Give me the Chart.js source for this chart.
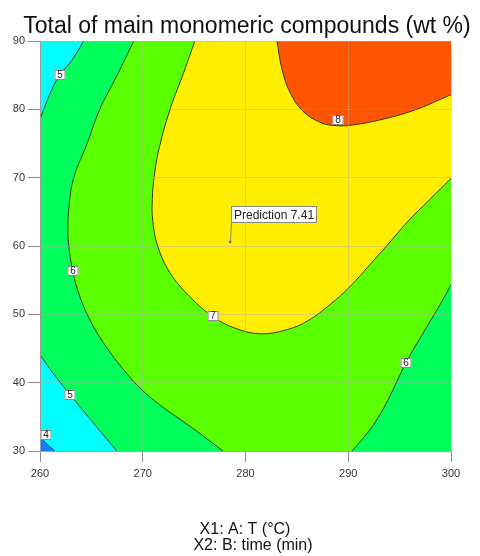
<!DOCTYPE html>
<html>
<head>
<meta charset="utf-8">
<script src="https://cdn.jsdelivr.net/npm/chart.js@4.4.1/dist/chart.umd.min.js"></script>
<style>
html,body{margin:0;padding:0;background:#fff;}
#wrap{width:480px;height:556px;}
</style>
</head>
<body>
<div id="wrap"><canvas id="c" width="480" height="556"></canvas></div>
<script>
// ---------- data ----------
const chartTitle = 'Total of main monomeric compounds (wt %)';
const xTitleLines = ['X1: A: T (°C)', 'X2: B: time (min)'];
const tempRange = [260, 300];          // X1: T (°C)
const timeRange = [30, 90];            // X2: time (min)
const tempTicks = [260, 270, 280, 290, 300];
const timeTicks = [30, 40, 50, 60, 70, 80, 90];

// contour lines as [T, time] pairs
const contour4 = [[260, 32.05], [260.7, 31.0], [261.44, 30]];
const contour5Lower = [[260, 44.08], [260.95, 42.03], [261.93, 40.12], [263.10, 37.92], [264.46, 35.43], [265.92, 32.79], [267.48, 30]];
const contour5Upper = [[264.26, 90], [263.07, 87.1], [261.86, 84.9], [260.95, 82.2], [260, 78.56]];
const contour6Left = [[269.13, 90], [267.47, 84.9], [265.82, 80.02], [264.56, 74.89], [263.29, 70.05], [262.85, 66.23],
  [262.71, 62.42], [262.80, 60.07], [263.19, 56.26], [263.88, 52.59], [264.85, 49.22], [266.11, 45.99],
  [268.06, 42.03], [269.72, 39.24], [271.66, 36.75], [273.71, 34.55], [275.75, 32.35], [277.80, 30]];
const contour6Right = [[290.36, 30], [291.14, 31.32], [292.02, 32.93], [292.89, 34.84], [293.87, 37.48],
  [295.62, 42.91], [297.37, 47.46], [299.22, 52.15], [300, 54.35]];
const contour7 = [[275.07, 90], [274.0, 85.45], [272.73, 80.32], [271.76, 75.33], [271.18, 70.93], [270.93, 66.82],
  [270.98, 63.59], [271.47, 59.93], [272.64, 56.11], [274.58, 52.59], [276.83, 49.66], [278.87, 48.04],
  [281.40, 47.16], [284.03, 47.75], [286.08, 49.07], [288.22, 51.42], [290.17, 54.06], [292.11, 57.28],
  [293.77, 60.07], [295.71, 63.45], [297.95, 66.82], [300, 69.90]];
const contour8 = [[283.06, 90], [283.55, 85.89], [284.32, 82.52], [285.59, 79.73], [287.24, 78.11], [288.41, 77.67],
  [290.17, 77.67], [293.38, 78.56], [296.69, 80.02], [299.90, 82.08], [300, 82.1]];

// contour labels
const labelTemp = [261.9, 263.2, 276.8, 289.0, 295.6, 262.9, 260.55];
const labelTime = [85.0, 56.3, 49.8, 78.4, 42.9, 38.2, 32.3];
const labelText = ['5', '6', '7', '8', '6', '5', '4'];

// prediction flag
const predTemp = [278.5];
const predTime = [60.6];
const predValue = [7.41];

// level colours
const colBelow4 = '#0a7fff';
const col4to5 = '#00ffff';
const col5to6 = '#00ff5a';
const col6to7 = '#5aff00';
const col7to8 = '#ffee00';
const colAbove8 = '#ff5500';

// ---------- build datasets / regions ----------
const [t0, t1] = tempRange;
const [h0, h1] = timeRange;
const contours = [contour4, contour5Lower, contour5Upper, contour6Left, contour6Right, contour7, contour8];
const C4 = 0, C5L = 1, C5U = 2, C6L = 3, C6R = 4, C7 = 5, C8 = 6;

// each region: sequence of corner points and contour lines (dataset index)
const regions = [
  {color: col5to6, parts: [{pt: [t0, h0]}, {pt: [t1, h0]}, {pt: [t1, h1]}, {pt: [t0, h1]}]},
  {color: col4to5, parts: [{pt: [t0, h0]}, {line: C5L}]},
  {color: colBelow4, parts: [{pt: [t0, h0]}, {line: C4}]},
  {color: col4to5, parts: [{pt: [t0, h1]}, {line: C5U}]},
  {color: col6to7, parts: [{line: C6L}, {line: C6R}, {pt: [t1, h1]}]},
  {color: col7to8, parts: [{line: C7}, {pt: [t1, h1]}]},
  {color: colAbove8, parts: [{line: C8}, {pt: [t1, h1]}]}
];

const toXY = arr => arr.map(p => ({x: p[0], y: p[1]}));
const lineSet = arr => ({
  data: toXY(arr), showLine: true, borderColor: '#383838', borderWidth: 1,
  pointRadius: 0, tension: 0.4, fill: false
});

const FONT = '"Liberation Sans", Arial, Helvetica, sans-serif';

const regionPlugin = {
  id: 'regions',
  beforeDatasetsDraw(chart) {
    const {ctx, chartArea: a, scales: {x, y}} = chart;
    ctx.save();
    ctx.beginPath();
    ctx.rect(a.left, a.top, a.right - a.left, a.bottom - a.top);
    ctx.clip();
    regions.forEach(r => {
      ctx.beginPath();
      let first = true;
      r.parts.forEach(part => {
        if (part.pt) {
          const px = x.getPixelForValue(part.pt[0]), py = y.getPixelForValue(part.pt[1]);
          if (first) ctx.moveTo(px, py); else ctx.lineTo(px, py);
        } else {
          const line = chart.getDatasetMeta(part.line).dataset;
          line.updateControlPoints(a, 'x');
          line.pathSegment(ctx, line.segments[0], {move: first});
        }
        first = false;
      });
      ctx.closePath();
      ctx.fillStyle = r.color;
      ctx.fill();
    });
    ctx.restore();
  }
};

const textPlugin = {
  id: 'texts',
  afterDraw(chart) {
    const {ctx, scales: {x, y}} = chart;
    ctx.save();
    // contour labels
    ctx.font = '10px ' + FONT;
    ctx.textAlign = 'center';
    ctx.textBaseline = 'middle';
    labelText.forEach((t, i) => {
      const px = Math.round(x.getPixelForValue(labelTemp[i]));
      const py = Math.round(y.getPixelForValue(labelTime[i]));
      const w = Math.round(ctx.measureText(t).width + 5), h = 10;
      ctx.fillStyle = '#fff';
      ctx.fillRect(px - w / 2, py - h / 2, w, h);
      ctx.strokeStyle = '#888';
      ctx.lineWidth = 1;
      ctx.strokeRect(px - w / 2 + 0.5, py - h / 2 + 0.5, w - 1, h - 1);
      ctx.fillStyle = '#222';
      ctx.fillText(t, px, py + 0.5);
    });
    // prediction flag
    predValue.forEach((v, i) => {
      const px = Math.round(x.getPixelForValue(predTemp[i]));
      const py = Math.round(y.getPixelForValue(predTime[i]));
      ctx.font = '12px ' + FONT;
      const txt = 'Prediction ' + v.toFixed(2);
      const w = Math.round(ctx.measureText(txt).width + 6), h = 17;
      const bx = px + 1, by = py - 19 - h;
      ctx.strokeStyle = '#888';
      ctx.beginPath();
      ctx.moveTo(bx + 0.5, by + h);
      ctx.lineTo(px + 0.5, py);
      ctx.stroke();
      ctx.fillStyle = '#fff';
      ctx.fillRect(bx, by, w, h);
      ctx.strokeRect(bx + 0.5, by + 0.5, w - 1, h - 1);
      ctx.fillStyle = '#222';
      ctx.textAlign = 'left';
      ctx.textBaseline = 'alphabetic';
      ctx.fillText(txt, bx + 3, by + 13);
    });
    // titles
    ctx.fillStyle = '#111';
    ctx.textAlign = 'center';
    ctx.textBaseline = 'alphabetic';
    ctx.font = '23px ' + FONT;
    ctx.fillText(chartTitle, 247, 33);
    ctx.font = '16px ' + FONT;
    ctx.fillText(xTitleLines[0], 245, 534);
    ctx.fillText(xTitleLines[1], 253, 550);
    ctx.restore();
  }
};

new Chart(document.getElementById('c'), {
  type: 'scatter',
  data: {
    datasets: [
      ...contours.map(lineSet),
      {data: predTemp.map((t, i) => ({x: t, y: predTime[i]})), pointRadius: 1.3,
       pointBackgroundColor: '#666', pointBorderWidth: 0, showLine: false}
    ]
  },
  options: {
    responsive: false,
    animation: false,
    events: [],
    layout: {padding: {top: 41, right: 29, left: 0, bottom: 0}},
    plugins: {legend: {display: false}, tooltip: {enabled: false}, title: {display: false}},
    scales: {
      x: {
        type: 'linear', min: tempRange[0], max: tempRange[1],
        afterBuildTicks: s => { s.ticks = tempTicks.map(v => ({value: v})); },
        afterFit: s => { s.height = 105; },
        ticks: {color: '#333', font: {family: FONT, size: 11}, padding: 5, maxRotation: 0},
        grid: {z: 1, color: 'rgba(175,175,175,0.42)', tickColor: '#8a8a8a', tickLength: 11, lineWidth: 1},
        border: {z: 1, color: '#9a9a9a', width: 1}
      },
      y: {
        type: 'linear', min: timeRange[0], max: timeRange[1],
        afterBuildTicks: s => { s.ticks = timeTicks.map(v => ({value: v})); },
        afterFit: s => { s.width = 40; },
        ticks: {color: '#333', font: {family: FONT, size: 11}, padding: 3},
        grid: {z: 1, color: 'rgba(175,175,175,0.42)', tickColor: '#8a8a8a', tickLength: 12, lineWidth: 1},
        border: {z: 1, color: '#9a9a9a', width: 1}
      }
    }
  },
  plugins: [regionPlugin, textPlugin]
});
</script>
</body>
</html>
